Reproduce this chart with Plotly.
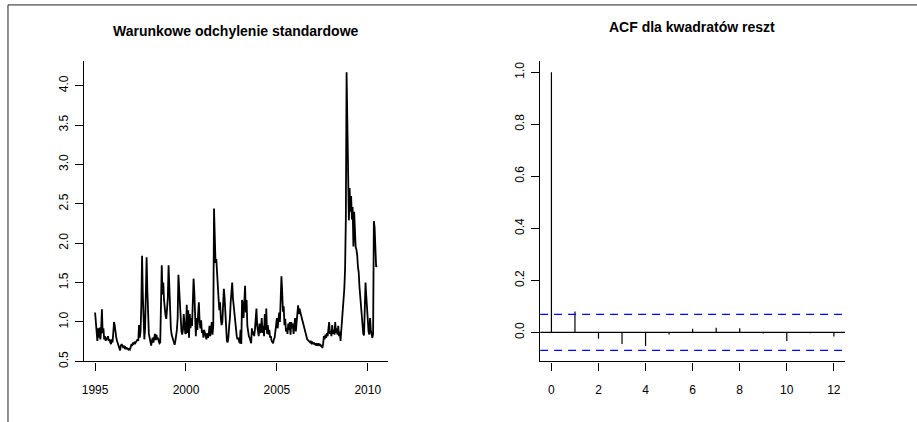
import plotly.graph_objects as go

# ---------------- data: conditional standard deviation (semi-monthly readings) ----------------
start_year = 1995
obs_per_year = 24

sd_1995 = [1.12, 0.95, 0.78, 0.76, 0.92, 0.80, 0.93, 0.78, 0.90, 1.16, 0.86, 0.92,
           0.78, 0.82, 0.76, 0.80, 0.78, 0.82, 0.76, 0.78, 0.74, 0.72, 0.78, 0.74]
sd_1996 = [0.86, 1.00, 0.95, 0.84, 0.80, 0.76, 0.72, 0.69, 0.67, 0.64, 0.70, 0.72,
           0.70, 0.68, 0.69, 0.67, 0.68, 0.66, 0.67, 0.66, 0.65, 0.66, 0.65, 0.68]
sd_1997 = [0.72, 0.71, 0.73, 0.72, 0.74, 0.73, 0.75, 0.76, 0.78, 0.76, 0.96, 0.80,
           0.88, 1.20, 1.84, 1.35, 0.95, 0.78, 0.92, 1.35, 1.82, 1.40, 1.05, 0.85]
sd_1998 = [0.80, 0.74, 0.70, 0.76, 0.80, 0.74, 0.79, 0.85, 0.77, 0.84, 0.78, 0.80,
           0.76, 0.73, 0.74, 1.10, 1.72, 1.35, 1.50, 1.28, 1.15, 1.08, 1.04, 1.15]
sd_1999 = [1.30, 1.72, 1.35, 1.05, 0.92, 0.84, 0.80, 0.78, 0.74, 0.71, 0.76, 0.82,
           0.90, 1.05, 1.60, 1.42, 1.20, 1.00, 0.88, 0.84, 0.90, 1.10, 0.92, 0.86]
sd_2000 = [0.85, 1.22, 0.86, 1.15, 0.80, 1.10, 0.92, 1.05, 0.95, 1.30, 1.55, 1.38,
           1.00, 0.82, 1.05, 0.90, 1.10, 1.25, 1.00, 0.92, 1.02, 0.86, 0.90, 0.80]
sd_2001 = [0.90, 0.86, 0.82, 0.78, 0.86, 0.80, 0.84, 0.95, 0.82, 0.90, 1.00, 0.84,
           0.95, 2.44, 2.05, 1.75, 1.80, 1.55, 1.35, 1.30, 1.15, 1.25, 1.05, 0.96]
sd_2002 = [1.00, 1.15, 1.42, 1.30, 1.10, 0.90, 0.76, 0.74, 0.80, 0.95, 1.05, 1.25,
           1.40, 1.50, 1.30, 1.20, 1.05, 0.95, 0.88, 0.82, 0.78, 0.80, 0.76, 0.73]
sd_2003 = [0.90, 0.72, 1.28, 1.22, 1.05, 1.32, 1.46, 1.12, 1.28, 0.95, 0.87, 0.82,
           0.80, 0.76, 0.73, 0.92, 0.84, 0.88, 0.82, 0.90, 1.00, 1.17, 0.95, 0.84]
sd_2004 = [0.82, 0.98, 0.86, 0.90, 1.05, 0.86, 0.95, 0.82, 1.10, 0.90, 1.17, 0.85,
           0.96, 0.84, 0.90, 0.80, 0.82, 0.76, 0.74, 0.73, 0.78, 0.80, 0.88, 0.96]
sd_2005 = [1.05, 0.92, 1.04, 1.12, 1.00, 1.30, 1.58, 1.38, 1.13, 1.20, 0.96, 1.04,
           0.88, 0.92, 0.85, 0.98, 0.90, 1.00, 0.84, 1.00, 0.92, 0.98, 0.85, 0.95]
sd_2006 = [1.05, 0.88, 1.02, 1.12, 1.21, 1.10, 1.17, 1.12, 1.08, 1.04, 1.00, 0.98,
           0.92, 0.88, 0.84, 0.80, 0.78, 0.77, 0.76, 0.75, 0.74, 0.76, 0.73, 0.74]
sd_2007 = [0.72, 0.74, 0.71, 0.73, 0.70, 0.72, 0.71, 0.73, 0.70, 0.72, 0.69, 0.71,
           0.67, 0.72, 0.82, 0.78, 0.84, 0.80, 0.86, 0.82, 0.95, 1.00, 0.85, 0.88]
sd_2008 = [0.82, 0.96, 0.85, 0.90, 0.84, 1.00, 0.86, 0.92, 0.84, 0.95, 0.82, 0.88,
           0.76, 0.88, 1.00, 1.15, 1.30, 1.42, 1.67, 2.30, 4.17, 3.40, 2.79, 2.29]
sd_2009 = [2.70, 2.40, 2.60, 2.30, 2.46, 1.96, 2.40, 2.00, 1.95, 1.92, 1.85, 1.70,
           1.63, 1.45, 1.30, 1.18, 1.05, 0.95, 0.85, 0.83, 1.20, 1.50, 1.33, 1.15]
sd_2010 = [1.02, 0.88, 0.84, 1.05, 0.90, 0.84, 0.80, 0.85, 2.28, 2.20, 1.95, 1.70, 1.72]

# ---------------- data: ACF of squared residuals ----------------
lags = list(range(13))
acf_vals = [1.0, 0.080, -0.024, -0.045, -0.052, -0.008, 0.014, 0.018, 0.016,
            -0.004, -0.033, -0.003, -0.016]
conf_limit = 0.069

left_xticks = [1995, 2000, 2005, 2010]
left_yticks = [0.5, 1.0, 1.5, 2.0, 2.5, 3.0, 3.5, 4.0]
right_xticks = [0, 2, 4, 6, 8, 10, 12]
right_yticks = [0.0, 0.2, 0.4, 0.6, 0.8, 1.0]

title_left = "Warunkowe odchylenie standardowe"
title_right = "ACF dla kwadratów reszt"

# ---------------- build ----------------
blocks = [sd_1995, sd_1996, sd_1997, sd_1998, sd_1999, sd_2000, sd_2001, sd_2002,
          sd_2003, sd_2004, sd_2005, sd_2006, sd_2007, sd_2008, sd_2009, sd_2010]
cond_sd = [v for b in blocks for v in b]
t = [start_year + i / obs_per_year for i in range(len(cond_sd))]


def padded(lo, hi, f=0.04):
    d = (hi - lo) * f
    return [lo - d, hi + d]


xr1 = padded(min(t), max(t))
yr1 = padded(min(cond_sd), max(cond_sd))
xr2 = padded(min(lags), max(lags))
yr2 = padded(min(min(acf_vals), -conf_limit), max(max(acf_vals), conf_limit))

W, H = 917, 422
FONT = "Liberation Sans, Arial, sans-serif"

fig = go.Figure()
fig.add_trace(go.Scatter(x=t, y=cond_sd, mode="lines",
                         line=dict(color="black", width=1.8),
                         xaxis="x", yaxis="y", hoverinfo="skip"))

sx, sy = [], []
for l, v in zip(lags, acf_vals):
    sx += [l, l, None]
    sy += [0, v, None]
fig.add_trace(go.Scatter(x=sx, y=sy, mode="lines",
                         line=dict(color="black", width=1.2),
                         xaxis="x2", yaxis="y2", hoverinfo="skip"))
fig.add_trace(go.Scatter(x=xr2, y=[0, 0], mode="lines",
                         line=dict(color="black", width=1.2),
                         xaxis="x2", yaxis="y2", hoverinfo="skip"))
for c in (conf_limit, -conf_limit):
    fig.add_trace(go.Scatter(x=xr2, y=[c, c], mode="lines",
                             line=dict(color="#0000ff", width=1.2, dash="8px,6px"),
                             xaxis="x2", yaxis="y2", hoverinfo="skip"))

ydom = [1 - 366.7 / H, 1 - 62 / H]
axis_common = dict(showgrid=False, zeroline=False, showline=True, linecolor="black",
                   linewidth=1.2, ticks="outside", ticklen=8, tickwidth=1.2,
                   tickcolor="black", tickfont=dict(family=FONT, size=12, color="black"))

fig.update_layout(
    width=W, height=H, margin=dict(l=0, r=0, t=0, b=0),
    paper_bgcolor="white", plot_bgcolor="white", showlegend=False,
    font=dict(family=FONT, color="black"),
    xaxis=dict(domain=[82 / W, 387 / W], range=xr1, anchor="y", ticklabelstandoff=9,
               tickvals=left_xticks, ticktext=[str(v) for v in left_xticks], **axis_common),
    yaxis=dict(domain=ydom, range=yr1, anchor="x", tickangle=-90, ticklabelstandoff=2,
               tickvals=left_yticks, ticktext=[f"{v:.1f}" for v in left_yticks], **axis_common),
    xaxis2=dict(domain=[539.3 / W, 845 / W], range=xr2, anchor="y2", ticklabelstandoff=9,
                tickvals=right_xticks, ticktext=[str(v) for v in right_xticks], **axis_common),
    yaxis2=dict(domain=ydom, range=yr2, anchor="x2", tickangle=-90, ticklabelstandoff=2,
                tickvals=right_yticks, ticktext=[f"{v:.1f}" for v in right_yticks], **axis_common),
    annotations=[
        dict(text=f"<b>{title_left}</b>", x=234.5 / W, y=1 - 31 / H, xref="paper", yref="paper",
             xanchor="center", yanchor="middle", showarrow=False,
             font=dict(family=FONT, size=14, color="black")),
        dict(text=f"<b>{title_right}</b>", x=692 / W, y=1 - 27 / H, xref="paper", yref="paper",
             xanchor="center", yanchor="middle", showarrow=False,
             font=dict(family=FONT, size=14, color="black")),
    ],
    shapes=[dict(type="rect", xref="paper", yref="paper", x0=6 / W, x1=1.05,
                 y0=-0.05, y1=1 - 5 / H, line=dict(color="#222222", width=1))],
)

fig.write_html("out.html", config={"displayModeBar": False},
               post_script="document.body.style.margin='0';document.body.style.overflow='hidden';")
